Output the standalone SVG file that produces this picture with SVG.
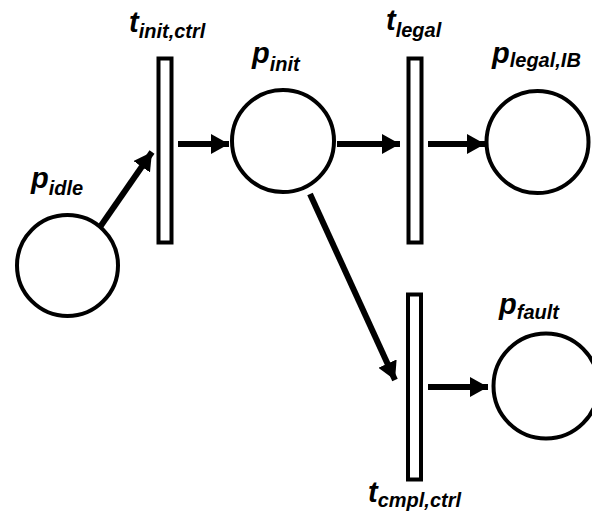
<svg xmlns="http://www.w3.org/2000/svg" width="592" height="527" viewBox="0 0 592 527">
<defs>
<style>
.place{fill:#fff;stroke:#000;stroke-width:4}
.trans{fill:#fff;stroke:#000;stroke-width:4}
.arc{stroke:#000;stroke-width:6;fill:none;marker-end:url(#ah)}
.lbl{font-family:"Liberation Sans",Arial,sans-serif;font-weight:bold;font-style:italic;font-size:29px;fill:#000}
.sub{font-size:20px}
</style>
<marker id="ah" markerUnits="userSpaceOnUse" markerWidth="18" markerHeight="20" refX="18" refY="10" orient="auto">
<path d="M0,0 L18,10 L0,20 z" fill="#000"/>
</marker>
</defs>
<rect width="592" height="527" fill="#fff"/>
<g id="connectors">
<line class="arc" x1="100" y1="227" x2="152" y2="152"/>
<line class="arc" x1="178" y1="144" x2="229" y2="144"/>
<line class="arc" x1="337" y1="144" x2="400" y2="144"/>
<line class="arc" x1="428" y1="144" x2="485" y2="144"/>
<line class="arc" x1="310" y1="194" x2="395" y2="380"/>
<line class="arc" x1="428" y1="387" x2="488" y2="387"/>
</g>
<g id="p_idle">
<circle class="place" cx="67.5" cy="265.5" r="50.5"/>
<text class="lbl" x="31" y="188">p<tspan class="sub" dy="7">idle</tspan></text>
</g>
<g id="t_init_ctrl">
<rect class="trans" x="158.5" y="58.5" width="13" height="184"/>
<text class="lbl" x="129" y="32">t<tspan class="sub" dy="6">init,ctrl</tspan></text>
</g>
<g id="p_init">
<circle class="place" cx="283" cy="141" r="51"/>
<text class="lbl" x="252" y="63">p<tspan class="sub" dy="8">init</tspan></text>
</g>
<g id="t_legal">
<rect class="trans" x="408.5" y="58.5" width="13" height="184"/>
<text class="lbl" x="386" y="30">t<tspan class="sub" dy="7">legal</tspan></text>
</g>
<g id="p_legal_IB">
<circle class="place" cx="537.5" cy="142" r="51"/>
<text class="lbl" x="492" y="63">p<tspan class="sub" dy="4">legal,IB</tspan></text>
</g>
<g id="t_cmpl_ctrl">
<rect class="trans" x="408" y="294.5" width="13" height="185"/>
<text class="lbl" x="368" y="502">t<tspan class="sub" dy="5">cmpl,ctrl</tspan></text>
</g>
<g id="p_fault">
<circle class="place" cx="546" cy="386" r="52.5"/>
<text class="lbl" x="499" y="314">p<tspan class="sub" dy="5">fault</tspan></text>
</g>
</svg>
